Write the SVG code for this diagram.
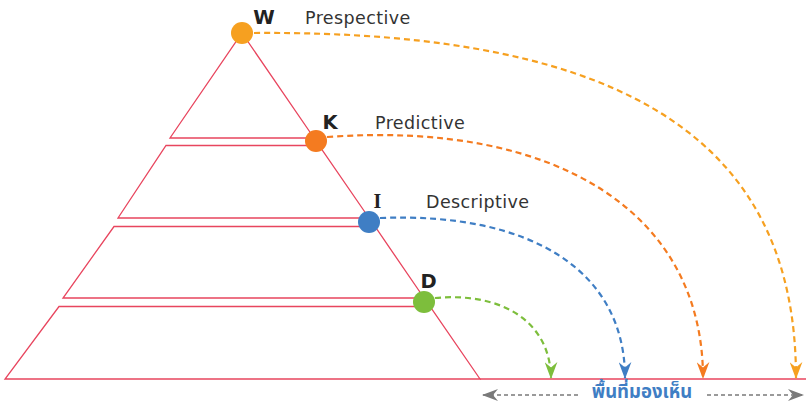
<svg xmlns="http://www.w3.org/2000/svg" width="806" height="406" viewBox="0 0 806 406">
<style>
.tier{fill:none;stroke:#E8455E;stroke-width:1.3;stroke-linejoin:miter}
.lbl{font-family:"DejaVu Sans","Open Sans",sans-serif;font-size:17.5px;letter-spacing:0.4px;fill:#333}
.let{font-family:"DejaVu Sans","Liberation Sans",sans-serif;font-weight:bold;font-size:19.5px;fill:#222}
.arc{fill:none;stroke-width:2.2;stroke-dasharray:6 4}
</style>
<defs>
<marker id="mY" viewBox="0 0 12 16" refX="6" refY="15" markerWidth="13" markerHeight="17" markerUnits="userSpaceOnUse"><path d="M0,0 L6,5 L12,0 L6,16 Z" fill="#F6A020"/></marker>
<marker id="mO" viewBox="0 0 12 16" refX="6" refY="15" markerWidth="13" markerHeight="17" markerUnits="userSpaceOnUse"><path d="M0,0 L6,5 L12,0 L6,16 Z" fill="#F47B20"/></marker>
<marker id="mB" viewBox="0 0 12 16" refX="6" refY="15" markerWidth="13" markerHeight="17" markerUnits="userSpaceOnUse"><path d="M0,0 L6,5 L12,0 L6,16 Z" fill="#3F7EC4"/></marker>
<marker id="mG" viewBox="0 0 12 16" refX="6" refY="15" markerWidth="13" markerHeight="17" markerUnits="userSpaceOnUse"><path d="M0,0 L6,5 L12,0 L6,16 Z" fill="#7DBE3C"/></marker>
<marker id="mGr" viewBox="0 0 16 12" refX="15" refY="6" markerWidth="16" markerHeight="12" markerUnits="userSpaceOnUse" orient="auto-start-reverse"><path d="M16,6 L0,0 L5,6 L0,12 Z" fill="#7A7A7A"/></marker>
</defs>

<g id="pyramid">
<polygon class="tier" points="242,33 314,138 170,138"/>
<polygon class="tier" points="166,145.5 319,145.5 369,218 118,218"/>
<polygon class="tier" points="114,226.5 375,226.5 424,298 63,298"/>
<polygon class="tier" points="59,306.5 430,306.5 480,379 5,379"/>
<line class="tier" x1="480" y1="379" x2="806" y2="379"/>
</g>

<g id="connectors">
<path class="arc" stroke="#F6A020" d="M254,33 C640,30 796,150 796,378" marker-end="url(#mY)"/>
<path class="arc" stroke="#F47B20" d="M327,137 C560,120 703,215 703,378" marker-end="url(#mO)"/>
<path class="arc" stroke="#3F7EC4" d="M380,218 C530,212 625,270 625,378" marker-end="url(#mB)"/>
<path class="arc" stroke="#7DBE3C" d="M435,298 C500,292 550,320 551,378" marker-end="url(#mG)"/>
<line x1="483" y1="395" x2="579" y2="395" stroke="#7A7A7A" stroke-width="1.5" stroke-dasharray="4 3" marker-start="url(#mGr)"/>
<line x1="707" y1="395" x2="803" y2="395" stroke="#7A7A7A" stroke-width="1.5" stroke-dasharray="4 3" marker-end="url(#mGr)"/>
</g>

<g id="node-W">
<circle cx="242" cy="33" r="11" fill="#F6A020"/>
<text class="let" x="264" y="24" text-anchor="middle">W</text>
<text class="lbl" x="305" y="24">Prespective</text>
</g>
<g id="node-K">
<circle cx="316" cy="141" r="11" fill="#F47B20"/>
<text class="let" x="330" y="129" text-anchor="middle">K</text>
<text class="lbl" x="375" y="129">Predictive</text>
</g>
<g id="node-I">
<circle cx="369" cy="222" r="11" fill="#3F7EC4"/>
<text class="let" x="377.5" y="208" text-anchor="middle" style="font-family:'Liberation Serif','DejaVu Serif',serif;font-size:20px">I</text>
<text class="lbl" x="426" y="208">Descriptive</text>
</g>
<g id="node-D">
<circle cx="424" cy="302" r="11" fill="#7DBE3C"/>
<text class="let" x="428.5" y="288" text-anchor="middle">D</text>
</g>
<g id="visible-area">
<text x="642" y="398" text-anchor="middle" style="font-family:'Noto Sans Thai','Noto Sans','DejaVu Sans',sans-serif;font-weight:bold;font-size:18.5px;fill:#3F7EC4">พื้นที่มองเห็น</text>
</g>
</svg>
